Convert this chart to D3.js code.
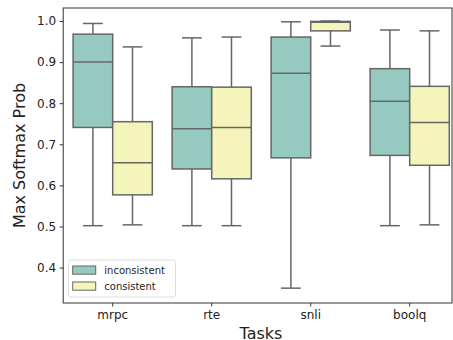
<!DOCTYPE html>
<html><head><meta charset="utf-8">
<script src="https://cdn.jsdelivr.net/npm/d3@7"></script>
<style>body{margin:0;background:#fff}svg{display:block}text{font-family:"DejaVu Sans",sans-serif}</style>
</head><body>
<svg id="c" width="453" height="340"></svg>
<script>
const categories = ["mrpc", "rte", "snli", "boolq"];
const seriesNames = ["inconsistent", "consistent"];
// [lowerWhisker, Q1, median, Q3, upperWhisker]
const inconsistent = [
  [0.502, 0.741, 0.900, 0.968, 0.994],
  [0.502, 0.640, 0.738, 0.840, 0.959],
  [0.350, 0.667, 0.873, 0.961, 0.998],
  [0.502, 0.673, 0.805, 0.884, 0.978]
];
const consistent = [
  [0.504, 0.577, 0.655, 0.755, 0.937],
  [0.502, 0.616, 0.741, 0.839, 0.961],
  [0.939, 0.976, 0.997, 0.999, 1.000],
  [0.504, 0.649, 0.753, 0.841, 0.976]
];
const yTicks = [0.4, 0.5, 0.6, 0.7, 0.8, 0.9, 1.0];
const colors = ["#96cac1", "#f5f5bb"];
const lineColor = "#666666";

const svg = d3.select("#c");
const mLeft = 63.2, mTop = 8, mBottom = 303, rightSpine = 452;
const x = d3.scaleBand().domain(categories).range([mLeft, mLeft + 396]).padding(0);
const hue = d3.scaleBand().domain(seriesNames).range([0, x.bandwidth() * 0.8]);
const y = d3.scaleLinear().domain([0.4, 1.0]).range([267.6, 21]);

const data = [inconsistent, consistent];
const g = svg.append("g");
seriesNames.forEach((s, si) => {
  categories.forEach((c, ci) => {
    const v = data[si][ci];
    const bx = x(c) + x.bandwidth() * 0.1 + hue(s);
    const bw = hue.bandwidth();
    const cx = bx + bw / 2;
    const cap = bw / 2;
    const grp = g.append("g").attr("stroke", lineColor).attr("stroke-width", 1.5);
    grp.append("line").attr("x1", cx).attr("x2", cx).attr("y1", y(v[0])).attr("y2", y(v[1]));
    grp.append("line").attr("x1", cx).attr("x2", cx).attr("y1", y(v[3])).attr("y2", y(v[4]));
    grp.append("line").attr("x1", cx - cap / 2).attr("x2", cx + cap / 2).attr("y1", y(v[0])).attr("y2", y(v[0]));
    grp.append("line").attr("x1", cx - cap / 2).attr("x2", cx + cap / 2).attr("y1", y(v[4])).attr("y2", y(v[4]));
    grp.append("rect").attr("x", bx).attr("width", bw).attr("y", y(v[3])).attr("height", y(v[1]) - y(v[3])).attr("fill", colors[si]);
    grp.append("line").attr("x1", bx).attr("x2", bx + bw).attr("y1", y(v[2])).attr("y2", y(v[2]));
  });
});

// frame
svg.append("rect").attr("x", mLeft).attr("y", mTop).attr("width", rightSpine - mLeft).attr("height", mBottom - mTop)
  .attr("fill", "none").attr("stroke", "#333").attr("stroke-width", 1);

// y axis
const ya = svg.append("g").attr("transform", `translate(${mLeft},0)`)
  .call(d3.axisLeft(y).tickValues(yTicks).tickFormat(d3.format(".1f")).tickSize(3.5).tickPadding(3.5));
ya.select(".domain").remove();
ya.selectAll("line").attr("stroke", "#333");
ya.selectAll("text").attr("font-size", 12).attr("fill", "#222").attr("font-family", "DejaVu Sans");

// x axis
const xa = svg.append("g").attr("transform", `translate(0,${mBottom})`)
  .call(d3.axisBottom(x).tickSize(3.5).tickPadding(3.5));
xa.select(".domain").remove();
xa.selectAll("line").attr("stroke", "#333");
xa.selectAll("text").attr("font-size", 12).attr("fill", "#222").attr("font-family", "DejaVu Sans");

// axis labels
svg.append("text").attr("transform", `translate(25,${(mTop + mBottom) / 2}) rotate(-90)`)
  .attr("text-anchor", "middle").attr("font-size", 16).attr("fill", "#222").text("Max Softmax Prob");
svg.append("text").attr("x", 261).attr("y", 339).attr("text-anchor", "middle")
  .attr("font-size", 16).attr("fill", "#222").text("Tasks");

// legend
const lg = svg.append("g");
lg.append("rect").attr("x", 68.5).attr("y", 260).attr("width", 107).attr("height", 37).attr("rx", 2.5)
  .attr("fill", "#fff").attr("fill-opacity", 0.8).attr("stroke", "#ddd").attr("stroke-width", 1);
seriesNames.forEach((s, i) => {
  const yy = 266 + i * 16;
  lg.append("rect").attr("x", 72.7).attr("y", yy).attr("width", 23).attr("height", 8.2)
    .attr("fill", colors[i]).attr("stroke", lineColor).attr("stroke-width", 1);
  lg.append("text").attr("x", 104.3).attr("y", yy + 8).attr("font-size", 10).attr("fill", "#222").text(s);
});
</script>
</body></html>
